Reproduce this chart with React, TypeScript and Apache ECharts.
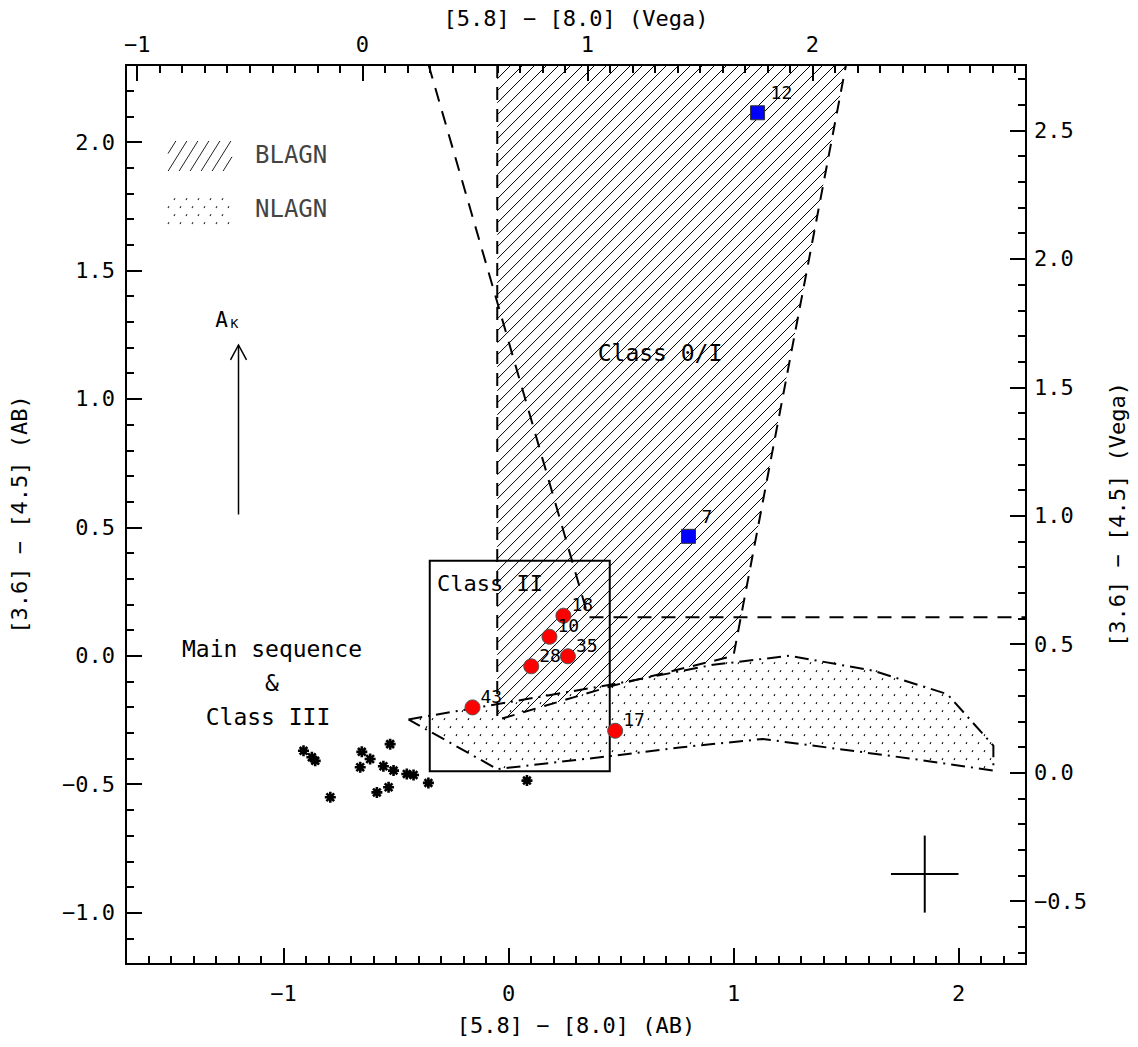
import React, { useEffect, useRef } from "react";
import * as echarts from "echarts";

const WIDTH = 1138;
const HEIGHT = 1047;
const FONT = "DejaVu Sans Mono";

// ---------- axes: AB on bottom/left, Vega on top/right ----------
const X_MIN = -1.7;
const X_MAX = 2.3;
const Y_MIN = -1.2;
const Y_MAX = 2.3;
const X_VEGA_OFFSET = 0.65; // Vega = AB + offset
const Y_VEGA_OFFSET = 0.455;

const xTickLabels = [-1, 0, 1, 2];
const xVegaTickLabels = [-1, 0, 1, 2];
const yTickLabels = [-1.0, -0.5, 0.0, 0.5, 1.0, 1.5, 2.0];
const yVegaTickLabels = [-0.5, 0.0, 0.5, 1.0, 1.5, 2.0, 2.5];

// ---------- data ----------
const starX = [-0.911, -0.874, -0.859, -0.792, -0.652, -0.615, -0.659, -0.526, -0.556, -0.511, -0.585, -0.533, -0.452, -0.422, -0.356, 0.082];
const starY = [-0.37, -0.395, -0.409, -0.551, -0.374, -0.402, -0.434, -0.344, -0.43, -0.447, -0.532, -0.512, -0.46, -0.464, -0.495, -0.486];

const redIds = ["18", "10", "35", "28", "43", "17"];
const redX = [0.244, 0.182, 0.264, 0.101, -0.16, 0.474];
const redY = [0.156, 0.074, -0.002, -0.041, -0.201, -0.292];

const blueIds = ["12", "7"];
const blueX = [1.107, 0.8];
const blueY = [2.114, 0.465];

// BLAGN region (hatched, dashed outline)
const blagnX = [-0.05, -0.05, 0.47, 0.91, 1.0, 1.5];
const blagnY = [2.3, -0.25, -0.115, -0.02, 0.0, 2.3];

// NLAGN region (dotted, dash-dot outline)
const nlagnX = [-0.445, 0.47, 0.91, 1.25, 1.62, 1.95, 2.155, 2.155, 1.8, 1.58, 1.13, 0.76, 0.467, -0.05];
const nlagnY = [-0.248, -0.11, -0.035, 0.0, -0.058, -0.149, -0.35, -0.447, -0.402, -0.376, -0.324, -0.357, -0.389, -0.441];

// Class 0/I boundary (dashed)
const wedgeX = [-0.355, 0.355, 2.3];
const wedgeY = [2.3, 0.15, 0.15];

// Class II box
const classIIX = [-0.35, 0.45];
const classIIY = [-0.45, 0.37];

// typical error bar
const errX = [1.85];
const errY = [-0.85];
const errHalfX = [0.15];
const errHalfY = [0.15];

// extinction vector A_K
const akX = [-1.2];
const akY0 = [0.55];
const akY1 = [1.21];

// ---------- helpers ----------
function minorTicks(min: number, max: number, step: number, every: number) {
  const out: number[] = [];
  const k0 = Math.ceil(min / step - 1e-9);
  const k1 = Math.floor(max / step + 1e-9);
  for (let k = k0; k <= k1; k++) {
    const v = +(k * step).toFixed(6);
    if (Math.abs(v - min) < 1e-6 || Math.abs(v - max) < 1e-6) continue;
    const r = v / every;
    if (Math.abs(r - Math.round(r)) < 1e-6) continue;
    out.push(v);
  }
  return out;
}

const fmt = (v: number, d: number) => {
  const s = Math.abs(v).toFixed(d);
  return v < -1e-9 ? "\u2212" + s : s;
};

// hatch lines k*x + y = c clipped to polygon (pixel space)
function hatchSegments(poly: number[][], spacingX: number, k: number) {
  const sums = poly.map((p) => k * p[0] + p[1]);
  const cMin = Math.min(...sums);
  const cMax = Math.max(...sums);
  const step = spacingX * k;
  const segs: number[][] = [];
  for (let c = Math.ceil(cMin / step) * step; c <= cMax; c += step) {
    const xs: number[] = [];
    for (let i = 0; i < poly.length; i++) {
      const a = poly[i];
      const b = poly[(i + 1) % poly.length];
      const fa = k * a[0] + a[1] - c;
      const fb = k * b[0] + b[1] - c;
      if ((fa < 0 && fb >= 0) || (fa >= 0 && fb < 0)) {
        const t = fa / (fa - fb);
        xs.push(a[0] + t * (b[0] - a[0]));
      }
    }
    xs.sort((m, n) => m - n);
    for (let j = 0; j + 1 < xs.length; j += 2) {
      segs.push([xs[j], c - k * xs[j], xs[j + 1], c - k * xs[j + 1]]);
    }
  }
  return segs;
}

function inside(poly: number[][], x: number, y: number) {
  let inn = false;
  for (let i = 0, j = poly.length - 1; i < poly.length; j = i++) {
    const xi = poly[i][0], yi = poly[i][1], xj = poly[j][0], yj = poly[j][1];
    if (yi > y !== yj > y && x < ((xj - xi) * (y - yi)) / (yj - yi) + xi) inn = !inn;
  }
  return inn;
}

function dotPoints(poly: number[][], dx: number, dy: number) {
  const xs = poly.map((p) => p[0]);
  const ys = poly.map((p) => p[1]);
  const x0 = Math.min(...xs), x1 = Math.max(...xs);
  const y0 = Math.min(...ys), y1 = Math.max(...ys);
  const pts: number[][] = [];
  for (let j = Math.ceil(y0 / dy); j * dy <= y1; j++) {
    const y = j * dy;
    const off = (((j % 2) + 2) % 2) * (dx / 2);
    for (let i = Math.floor((x0 - off) / dx); i * dx + off <= x1; i++) {
      const x = i * dx + off;
      if (inside(poly, x, y)) pts.push([x, y]);
    }
  }
  return pts;
}

const dotPath = (pts: number[][]) =>
  pts.map((p) => `M${p[0].toFixed(1)} ${p[1].toFixed(1)}l1 -1.8`).join("");

// ---------- legend swatches (pixel layout) ----------
const legendHatchRect = [[168, 141], [232, 141], [232, 171], [168, 171]];
const legendDotRect = [[166, 194], [232, 194], [232, 225], [166, 225]];

const legendGraphics: any[] = [
  ...hatchSegments(legendHatchRect, 11, 1.6).map((s) => ({
    type: "line",
    shape: { x1: s[0], y1: s[1], x2: s[2], y2: s[3] },
    style: { stroke: "#222", lineWidth: 1 },
  })),
  ...dotPoints(legendDotRect, 12, 8).map((p) => ({
    type: "line",
    shape: { x1: p[0], y1: p[1], x2: p[0] + 1, y2: p[1] - 1.8 },
    style: { stroke: "#222", lineWidth: 1.1 },
  })),
];

const txt = (text: string, x: number, y: number, size: number, align = "center", color = "#000") => ({
  type: "text",
  x,
  y,
  style: {
    text,
    fill: color,
    font: `${size}px "${FONT}"`,
    align,
    textAlign: align,
    verticalAlign: "middle",
    textVerticalAlign: "middle",
  },
  silent: true,
});

// ---------- axes ----------
const axisLineStyle = { color: "#000", width: 2 };
const labelStyle = { color: "#000", fontFamily: FONT, fontSize: 22 };
const nameStyle = { color: "#000", fontFamily: FONT, fontSize: 22 };

function majorAxis(extra: any) {
  return {
    type: "value",
    axisLine: { show: true, onZero: false, lineStyle: axisLineStyle },
    splitLine: { show: false },
    nameMoveOverlap: false,
    ...extra,
  };
}
function minorAxis(position: string, min: number, max: number, values: number[]) {
  return {
    type: "value",
    position,
    min,
    max,
    axisLine: { show: false, onZero: false },
    axisTick: { show: true, inside: true, length: 8, customValues: values, lineStyle: { color: "#000", width: 2 } },
    axisLabel: { show: false },
    splitLine: { show: false },
  };
}

const xVMin = X_MIN + X_VEGA_OFFSET;
const xVMax = X_MAX + X_VEGA_OFFSET;
const yVMin = Y_MIN + Y_VEGA_OFFSET;
const yVMax = Y_MAX + Y_VEGA_OFFSET;

const option: any = {
  animation: false,
  backgroundColor: "#fff",
  grid: { left: 126, top: 65, right: 112, bottom: 83, containLabel: false, outerBoundsMode: "none" },
  xAxis: [
    majorAxis({
      position: "bottom",
      min: X_MIN,
      max: X_MAX,
      axisTick: { show: true, inside: true, length: 16, customValues: xTickLabels, lineStyle: axisLineStyle },
      axisLabel: { show: true, customValues: xTickLabels, formatter: (v: number) => fmt(v, 0), margin: 18, ...labelStyle },
      name: "[5.8] \u2212 [8.0] (AB)",
      nameLocation: "middle",
      nameGap: 50,
      nameTextStyle: nameStyle,
    }),
    minorAxis("bottom", X_MIN, X_MAX, minorTicks(X_MIN, X_MAX, 0.1, 1)),
    majorAxis({
      position: "top",
      min: xVMin,
      max: xVMax,
      axisTick: { show: true, inside: true, length: 16, customValues: xVegaTickLabels, lineStyle: axisLineStyle },
      axisLabel: { show: true, customValues: xVegaTickLabels, formatter: (v: number) => fmt(v, 0), margin: 10, ...labelStyle },
      name: "[5.8] \u2212 [8.0] (Vega)",
      nameLocation: "middle",
      nameGap: 36,
      nameTextStyle: nameStyle,
    }),
    minorAxis("top", xVMin, xVMax, minorTicks(xVMin, xVMax, 0.1, 1)),
  ],
  yAxis: [
    majorAxis({
      position: "left",
      min: Y_MIN,
      max: Y_MAX,
      axisTick: { show: true, inside: true, length: 16, customValues: yTickLabels, lineStyle: axisLineStyle },
      axisLabel: { show: true, customValues: yTickLabels, formatter: (v: number) => fmt(v, 1), margin: 11, ...labelStyle },
      name: "[3.6] \u2212 [4.5] (AB)",
      nameLocation: "middle",
      nameGap: 96,
      nameTextStyle: nameStyle,
    }),
    minorAxis("left", Y_MIN, Y_MAX, minorTicks(Y_MIN, Y_MAX, 0.1, 0.5)),
    majorAxis({
      position: "right",
      min: yVMin,
      max: yVMax,
      axisTick: { show: true, inside: true, length: 16, customValues: yVegaTickLabels, lineStyle: axisLineStyle },
      axisLabel: { show: true, customValues: yVegaTickLabels, formatter: (v: number) => fmt(v, 1), margin: 8, ...labelStyle },
      name: "[3.6] \u2212 [4.5] (Vega)",
      nameLocation: "middle",
      nameGap: 80,
      nameTextStyle: nameStyle,
    }),
    minorAxis("right", yVMin, yVMax, minorTicks(yVMin, yVMax, 0.1, 0.5)),
  ],
  graphic: [
    ...legendGraphics,
    txt("BLAGN", 255, 155, 24, "left", "#444"),
    txt("NLAGN", 255, 209, 24, "left", "#444"),
    txt("Class 0/I", 660, 353, 23),
    txt("Class II", 437, 583, 22, "left"),
    txt("Main sequence", 272, 649, 23),
    txt("&", 272, 683, 23),
    txt("Class III", 268, 717, 23),
  ],
  series: [
    {
      type: "custom",
      name: "BLAGN hatch",
      silent: true,
      clip: true,
      z: 1,
      data: [[blagnX[0], blagnY[0]]],
      renderItem: (_p: any, api: any) => {
        const poly = blagnX.map((x, i) => api.coord([x, blagnY[i]]));
        const d = hatchSegments(poly, 12, 1)
          .map((s) => `M${s[0].toFixed(1)} ${s[1].toFixed(1)}L${s[2].toFixed(1)} ${s[3].toFixed(1)}`)
          .join("");
        return { type: "path", shape: { pathData: d }, style: { fill: "none", stroke: "#000", lineWidth: 1 } };
      },
    },
    {
      type: "custom",
      name: "NLAGN dots",
      silent: true,
      clip: true,
      z: 1,
      data: [[nlagnX[0], nlagnY[0]]],
      renderItem: (_p: any, api: any) => {
        const poly = nlagnX.map((x, i) => api.coord([x, nlagnY[i]]));
        const d = dotPath(dotPoints(poly, 12, 8));
        return { type: "path", shape: { pathData: d }, style: { fill: "none", stroke: "#000", lineWidth: 1.1 } };
      },
    },
    {
      type: "line",
      name: "BLAGN",
      silent: true,
      z: 3,
      showSymbol: false,
      symbol: "none",
      data: blagnX.map((x, i) => [x, blagnY[i]]),
      lineStyle: { color: "#000", width: 2, type: [13, 9] },
    },
    {
      type: "line",
      name: "NLAGN",
      silent: true,
      z: 3,
      showSymbol: false,
      symbol: "none",
      data: [...nlagnX, nlagnX[0]].map((x, i) => [x, [...nlagnY, nlagnY[0]][i]]),
      lineStyle: { color: "#000", width: 2, type: [14, 6, 2, 6] },
    },
    {
      type: "line",
      name: "Class 0/I boundary",
      silent: true,
      z: 3,
      showSymbol: false,
      symbol: "none",
      data: wedgeX.map((x, i) => [x, wedgeY[i]]),
      lineStyle: { color: "#000", width: 2, type: [14, 10] },
    },
    {
      type: "custom",
      name: "Class II box",
      silent: true,
      z: 3,
      data: [[classIIX[0], classIIY[0], classIIX[1], classIIY[1]]],
      renderItem: (_p: any, api: any) => {
        const a = api.coord([api.value(0), api.value(3)]);
        const b = api.coord([api.value(2), api.value(1)]);
        return {
          type: "rect",
          shape: { x: a[0], y: a[1], width: b[0] - a[0], height: b[1] - a[1] },
          style: { fill: "none", stroke: "#000", lineWidth: 2 },
        };
      },
    },
    {
      type: "custom",
      name: "error",
      silent: true,
      z: 3,
      data: errX.map((x, i) => [x, errY[i], errHalfX[i], errHalfY[i]]),
      renderItem: (_p: any, api: any) => {
        const x = api.value(0), y = api.value(1), dx = api.value(2), dy = api.value(3);
        const l = api.coord([x - dx, y]);
        const r = api.coord([x + dx, y]);
        const t = api.coord([x, y + dy]);
        const b = api.coord([x, y - dy]);
        return {
          type: "group",
          children: [
            { type: "line", shape: { x1: l[0], y1: l[1], x2: r[0], y2: r[1] }, style: { stroke: "#000", lineWidth: 2 } },
            { type: "line", shape: { x1: t[0], y1: t[1], x2: b[0], y2: b[1] }, style: { stroke: "#000", lineWidth: 2 } },
          ],
        };
      },
    },
    {
      type: "custom",
      name: "A_K",
      silent: true,
      z: 3,
      data: akX.map((x, i) => [x, akY0[i], akY1[i]]),
      renderItem: (_p: any, api: any) => {
        const b = api.coord([api.value(0), api.value(1)]);
        const t = api.coord([api.value(0), api.value(2)]);
        return {
          type: "group",
          children: [
            { type: "line", shape: { x1: b[0], y1: b[1], x2: t[0], y2: t[1] }, style: { stroke: "#000", lineWidth: 1.5 } },
            {
              type: "polyline",
              shape: { points: [[t[0] - 8, t[1] + 15], [t[0], t[1]], [t[0] + 8, t[1] + 15]] },
              style: { stroke: "#000", fill: "none", lineWidth: 1.5 },
            },
            {
              type: "text",
              style: { text: "A", x: t[0] - 17, y: t[1] - 25, fill: "#000", font: `21px "${FONT}"`, align: "center", verticalAlign: "middle" },
            },
            {
              type: "text",
              style: { text: "K", x: t[0] - 4, y: t[1] - 21, fill: "#000", font: `13px "${FONT}"`, align: "center", verticalAlign: "middle" },
            },
          ],
        };
      },
    },
    {
      type: "scatter",
      name: "Class III",
      silent: true,
      z: 4,
      symbol: "path://M5 0L5 10M0 5L10 5M1.5 1.5L8.5 8.5M1.5 8.5L8.5 1.5",
      symbolSize: 11,
      data: starX.map((x, i) => [x, starY[i]]),
      itemStyle: { color: "rgba(0,0,0,0)", borderColor: "#000", borderWidth: 2.6, opacity: 1 },
    },
    {
      type: "scatter",
      name: "red",
      silent: true,
      z: 5,
      symbol: "circle",
      symbolSize: 15,
      data: redX.map((x, i) => ({ value: [x, redY[i]], name: redIds[i] })),
      itemStyle: { color: "#ff0000", borderColor: "#555", borderWidth: 1, opacity: 1 },
      label: {
        show: true,
        formatter: "{b}",
        position: "inside",
        align: "left",
        verticalAlign: "middle",
        offset: [8, -11],
        color: "#000",
        fontFamily: FONT,
        fontSize: 18,
      },
    },
    {
      type: "scatter",
      name: "blue",
      silent: true,
      z: 5,
      symbol: "rect",
      symbolSize: 14,
      data: blueX.map((x, i) => ({ value: [x, blueY[i]], name: blueIds[i] })),
      itemStyle: { color: "#0000ff", borderColor: "#333", borderWidth: 1, opacity: 1 },
      label: {
        show: true,
        formatter: "{b}",
        position: "inside",
        align: "left",
        verticalAlign: "middle",
        offset: [13, -20],
        color: "#000",
        fontFamily: FONT,
        fontSize: 18,
      },
    },
  ],
};

export default function App() {
  const ref = useRef<HTMLDivElement>(null);
  useEffect(() => {
    document.body.style.margin = "0";
    const chart = echarts.init(ref.current as HTMLDivElement, null, { renderer: "svg" });
    chart.setOption(option);
    return () => chart.dispose();
  }, []);
  return <div ref={ref} style={{ width: WIDTH, height: HEIGHT }} />;
}
